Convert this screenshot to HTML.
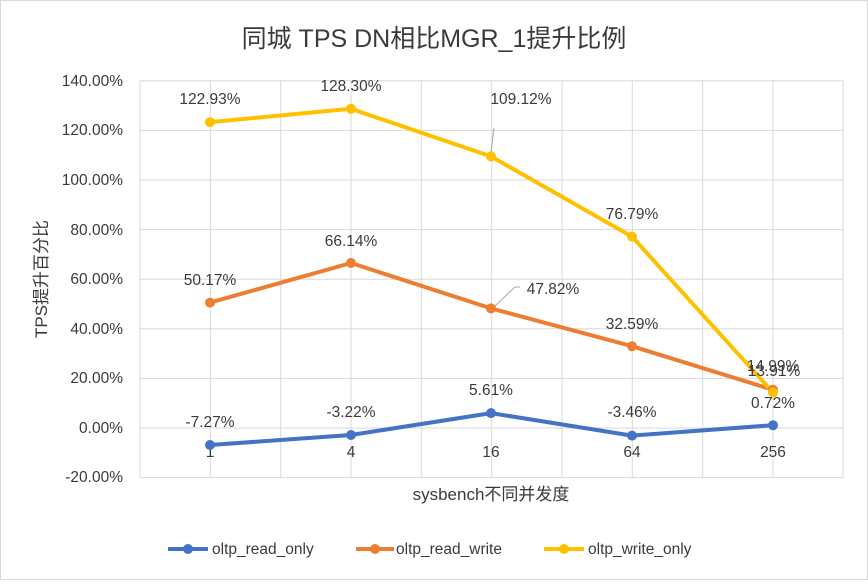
<!DOCTYPE html>
<html><head><meta charset="utf-8"><style>
html,body{margin:0;padding:0;background:#fff}
text{font-family:"Liberation Sans","Noto Sans CJK SC",sans-serif;fill:#3a3a3a}
</style></head><body>
<svg width="868" height="580" viewBox="0 0 868 580" xmlns="http://www.w3.org/2000/svg">
<rect x="0.5" y="0.5" width="867" height="579" fill="#fff" stroke="#d9d9d9"/>
<text x="434" y="47" font-size="25" text-anchor="middle" fill="#595959">同城 TPS DN相比MGR_1提升比例</text>
<g stroke="#d9d9d9" stroke-width="1">
<line x1="140" y1="80.8" x2="843" y2="80.8"/><line x1="140" y1="130.4" x2="843" y2="130.4"/>
<line x1="140" y1="180" x2="843" y2="180"/><line x1="140" y1="229.6" x2="843" y2="229.6"/>
<line x1="140" y1="279.2" x2="843" y2="279.2"/><line x1="140" y1="328.8" x2="843" y2="328.8"/>
<line x1="140" y1="378.4" x2="843" y2="378.4"/><line x1="140" y1="428" x2="843" y2="428"/>
<line x1="140" y1="477.6" x2="843" y2="477.6"/>
<line x1="140" y1="80.8" x2="140" y2="477.6"/><line x1="210.3" y1="80.8" x2="210.3" y2="477.6"/>
<line x1="280.7" y1="80.8" x2="280.7" y2="477.6"/><line x1="351" y1="80.8" x2="351" y2="477.6"/>
<line x1="421.3" y1="80.8" x2="421.3" y2="477.6"/><line x1="491.7" y1="80.8" x2="491.7" y2="477.6"/>
<line x1="562" y1="80.8" x2="562" y2="477.6"/><line x1="632.3" y1="80.8" x2="632.3" y2="477.6"/>
<line x1="702.7" y1="80.8" x2="702.7" y2="477.6"/><line x1="773" y1="80.8" x2="773" y2="477.6"/>
<line x1="843" y1="80.8" x2="843" y2="477.6"/>
</g>
<g font-size="15.5" text-anchor="end">
<text x="123" y="86">140.00%</text><text x="123" y="135">120.00%</text><text x="123" y="185">100.00%</text>
<text x="123" y="235">80.00%</text><text x="123" y="284">60.00%</text><text x="123" y="334">40.00%</text>
<text x="123" y="383">20.00%</text><text x="123" y="433">0.00%</text><text x="123" y="482">-20.00%</text>
</g>
<g font-size="15.5" text-anchor="middle">
<text x="210" y="457">1</text><text x="351" y="457">4</text><text x="491" y="457">16</text>
<text x="632" y="457">64</text><text x="773" y="457">256</text>
</g>
<text x="491" y="500" font-size="17" text-anchor="middle">sysbench不同并发度</text>
<text transform="translate(47,279) rotate(-90)" font-size="17" text-anchor="middle">TPS提升百分比</text>
<g stroke-width="4" fill="none" stroke-linejoin="round">
<polyline stroke="#4472c4" points="210,445 351,435 491,413.1 632,435.6 773,425.2"/>
<polyline stroke="#ed7d31" points="210,302.6 351,263 491,308.4 632,346.2 773,389.8"/>
<polyline stroke="#ffc000" points="210,122.1 351,108.8 491,156.4 632,236.6 773,392.5"/>
</g>
<g fill="#4472c4"><circle cx="210" cy="445" r="5"/><circle cx="351" cy="435" r="5"/><circle cx="491" cy="413.1" r="5"/><circle cx="632" cy="435.6" r="5"/><circle cx="773" cy="425.2" r="5"/></g>
<g fill="#ed7d31"><circle cx="210" cy="302.6" r="5"/><circle cx="351" cy="263" r="5"/><circle cx="491" cy="308.4" r="5"/><circle cx="632" cy="346.2" r="5"/><circle cx="773" cy="389.8" r="5"/></g>
<g fill="#ffc000"><circle cx="210" cy="122.1" r="5"/><circle cx="351" cy="108.8" r="5"/><circle cx="491" cy="156.4" r="5"/><circle cx="632" cy="236.6" r="5"/><circle cx="773" cy="392.5" r="5"/></g>
<g stroke="#a6a6a6" fill="none" stroke-width="1">
<polyline points="491,152 494,128"/><polyline points="495,306 515,287 520,287"/>
</g>
<g font-size="15.5" text-anchor="middle">
<text x="210" y="104">122.93%</text><text x="351" y="91">128.30%</text><text x="521" y="104">109.12%</text>
<text x="632" y="219">76.79%</text><text x="773" y="371">14.99%</text><text x="774" y="376">13.91%</text>
<text x="210" y="285">50.17%</text><text x="351" y="246">66.14%</text><text x="553" y="294">47.82%</text>
<text x="632" y="329">32.59%</text><text x="773" y="408">0.72%</text>
<text x="210" y="427">-7.27%</text><text x="351" y="417">-3.22%</text><text x="491" y="395">5.61%</text>
<text x="632" y="417">-3.46%</text>
</g>
<g font-size="15.5">
<line x1="168" y1="549" x2="208" y2="549" stroke="#4472c4" stroke-width="4"/><circle cx="188" cy="549" r="5" fill="#4472c4"/>
<text x="212" y="554">oltp_read_only</text>
<line x1="356" y1="549" x2="394" y2="549" stroke="#ed7d31" stroke-width="4"/><circle cx="375" cy="549" r="5" fill="#ed7d31"/>
<text x="396" y="554">oltp_read_write</text>
<line x1="544" y1="549" x2="584" y2="549" stroke="#ffc000" stroke-width="4"/><circle cx="564" cy="549" r="5" fill="#ffc000"/>
<text x="588" y="554">oltp_write_only</text>
</g>
</svg>
</body></html>
